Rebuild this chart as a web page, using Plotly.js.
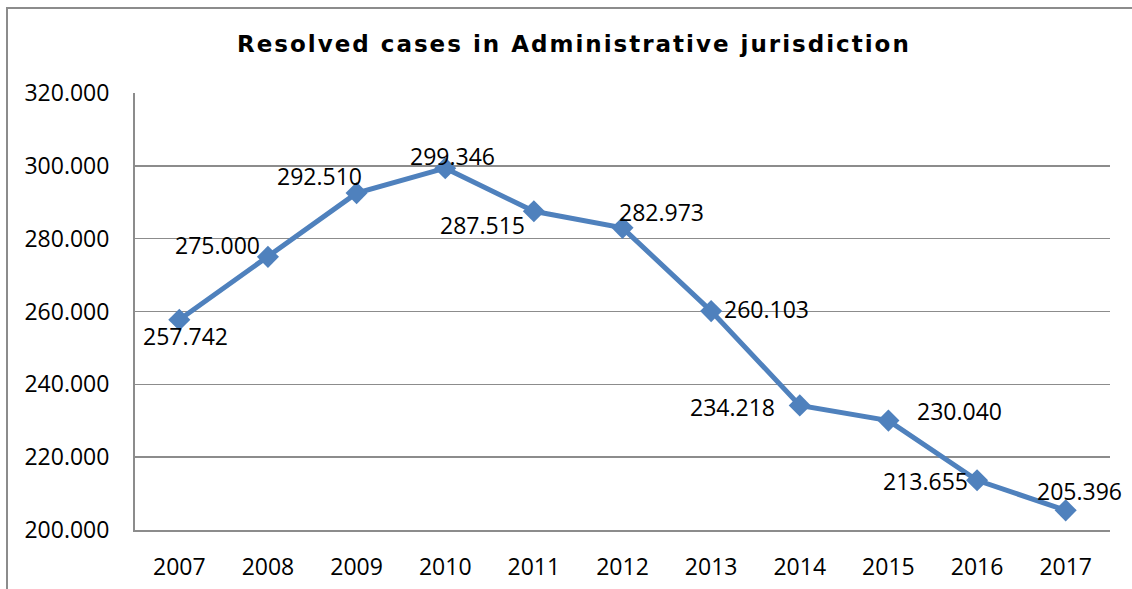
<!DOCTYPE html>
<html>
<head>
<meta charset="utf-8">
<script src="https://cdn.plot.ly/plotly-3.0.1.min.js"></script>
<style>
html,body{margin:0;padding:0;background:#fff;}
#wrap{position:relative;width:1132px;height:589px;overflow:hidden;}
#chart{position:absolute;left:0;top:0;width:1132px;height:589px;}
#frame{position:absolute;left:6px;top:7px;width:1200px;height:700px;border-left:2px solid #8c8c8c;border-top:2px solid #8c8c8c;pointer-events:none;}
.gtitle{letter-spacing:2px;}
</style>
</head>
<body>
<div id="wrap"><div id="chart"></div><div id="frame"></div></div>
<script>
const years = ['2007','2008','2009','2010','2011','2012','2013','2014','2015','2016','2017'];
const resolved = [257742, 275000, 292510, 299346, 287515, 282973, 260103, 234218, 230040, 213655, 205396];
const yTicks = [200000, 220000, 240000, 260000, 280000, 300000, 320000];

// label offsets (pixels) relative to each marker
const labelDx = [6, -50, -37, 7, -51, 39, 55, -67, 71, -52, 14];
const labelDy = [-16, 12, 17, 12, -14, 16, 2, -2, 10, -1, 19];

const fmt = v => String(v).replace(/\B(?=(\d{3})+(?!\d))/g, '.');

const labelFont = {family: 'Open Sans, sans-serif', size: 23, color: '#000'};

const annotations = years.map((y, i) => ({
  x: i, y: resolved[i], xref: 'x', yref: 'y',
  text: fmt(resolved[i]), showarrow: false,
  xshift: labelDx[i], yshift: labelDy[i],
  font: labelFont
}));

const trace = {
  x: years, y: resolved, type: 'scatter', mode: 'lines+markers',
  line: {color: '#4F81BD', width: 5},
  marker: {symbol: 'diamond', size: 17, color: '#4F81BD'},
  hoverinfo: 'skip'
};

const layout = {
  width: 1132, height: 589,
  margin: {l: 135, r: 22, t: 93, b: 59},
  paper_bgcolor: '#fff', plot_bgcolor: '#fff',
  separators: ',.',
  showlegend: false,
  title: {
    text: 'Resolved cases in Administrative jurisdiction',
    font: {family: 'DejaVu Sans, sans-serif', size: 23, color: '#000', weight: 'bold'},
    x: 0.507, xanchor: 'center', y: 0.925, yanchor: 'middle'
  },
  xaxis: {
    type: 'category', range: [-0.5, 10.5],
    showgrid: false, showline: true, linecolor: '#8c8c8c', linewidth: 2,
    ticks: '', tickfont: labelFont, ticklabelstandoff: 15,
    fixedrange: true
  },
  yaxis: {
    range: [200000, 320000], tickvals: yTicks, tickformat: ',.0f',
    showgrid: true, gridcolor: '#8c8c8c', gridwidth: 1.5,
    showline: true, linecolor: '#8c8c8c', linewidth: 2,
    zeroline: false, ticks: '', tickfont: labelFont, ticklabelstandoff: 19,
    fixedrange: true
  },
  annotations: annotations
};

Plotly.newPlot('chart', [trace], layout, {staticPlot: true, displayModeBar: false});
</script>
</body>
</html>
